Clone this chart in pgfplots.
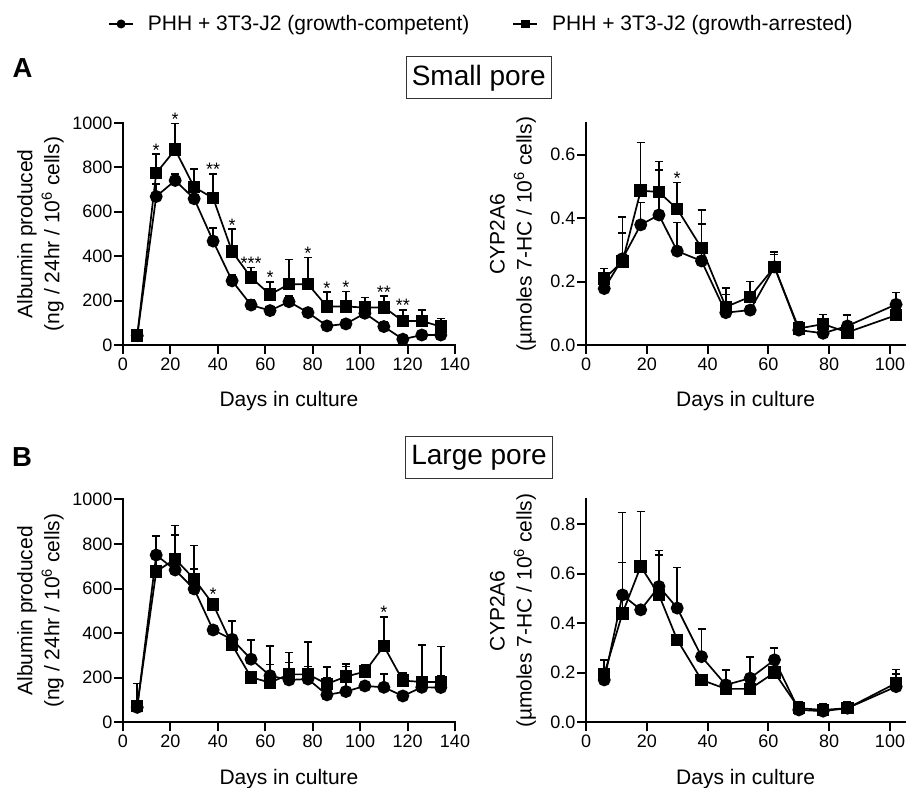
\documentclass[border=0pt]{standalone}
\usepackage{fontspec}
\setmainfont{Liberation Sans}
\usepackage{pgfplots}
\usepackage{pgfplotstable}
\pgfplotsset{compat=1.18}

% columns: day, mean, upper error
\pgfplotstableread{
x y e
6 42 0
14 669 56
22 741 30
30 659 0
38 468 58
46 289 27
54 180 23
62 155 0
70 195 25
78 146 0
86 86 0
94 95 0
102 143 0
110 83 22
118 26 0
126 45 0
134 45 0
}\spAlbComp
\pgfplotstableread{
x y e
6 42 5
14 774 86
22 880 117
30 711 81
38 662 109
46 421 101
54 304 45
62 227 57
70 274 112
78 274 121
86 173 65
94 174 67
102 168 46
110 170 50
118 108 50
126 108 50
134 83 37
}\spAlbArr
\pgfplotstableread{
x y e
6 0.178 0
12 0.272 0.081
18 0.379 0.071
24 0.410 0.142
30 0.296 0.091
38 0.265 0.117
46 0.102 0.057
54 0.110 0
62 0.246 0.040
70 0.047 0
78 0.037 0
86 0.060 0.034
102 0.128 0.037
}\spCypComp
\pgfplotstableread{
x y e
6 0.209 0.032
12 0.263 0.140
18 0.487 0.152
24 0.482 0.096
30 0.429 0.084
38 0.306 0.119
46 0.120 0.060
54 0.152 0.049
62 0.246 0.047
70 0.052 0.020
78 0.066 0.030
86 0.040 0
102 0.094 0
}\spCypArr
\pgfplotstableread{
x y e
6 67 108
14 750 83
22 683 157
30 598 90
38 414 0
46 372 82
54 283 86
62 209 51
70 190 79
78 194 56
86 123 77
94 138 112
102 163 0
110 157 59
118 118 0
126 157 43
134 156 52
}\lpAlbComp
\pgfplotstableread{
x y e
6 73 0
14 676 160
22 732 151
30 643 149
38 529 27
46 347 109
54 202 0
62 178 164
70 215 99
78 215 144
86 172 75
94 205 56
102 227 33
110 342 131
118 187 34
126 181 165
134 181 158
}\lpAlbArr
\pgfplotstableread{
x y e
6 0.171 0
12 0.514 0.333
18 0.454 0
24 0.548 0.146
30 0.461 0.164
38 0.265 0.111
46 0.151 0.060
54 0.178 0.085
62 0.252 0.047
70 0.050 0.033
78 0.045 0.030
86 0.057 0
102 0.144 0.050
}\lpCypComp
\pgfplotstableread{
x y e
6 0.195 0.057
12 0.440 0.205
18 0.629 0.222
24 0.514 0.162
30 0.333 0
38 0.171 0.019
46 0.135 0
54 0.135 0
62 0.201 0
70 0.057 0.020
78 0.050 0.025
86 0.057 0.026
102 0.158 0.055
}\lpCypArr

\tikzset{ast/.style={font=\fontsize{18}{18}\selectfont, anchor=base, inner sep=0pt, yshift=-2pt}}

\pgfplotsset{
  panel/.style={
    scale only axis, axis lines*=left, clip=false,
    axis line style={line width=2.2pt, line cap=rect},
    tick align=outside, major tick length=9pt,
    tick style={line width=2pt, black},
    ticklabel style={font=\fontsize{18}{18}\selectfont},
    yticklabel style={inner sep=1.5pt},
    /pgf/number format/assume math mode=true,
    /pgf/number format/1000 sep={},
    xlabel={Days in culture},
    every axis x label/.style={at={(axis description cs:0.5,0)}, anchor=base,
      yshift=-62pt, font=\fontsize{21}{27}\selectfont},
    every axis y label/.style={rotate=90, anchor=center, align=center,
      font=\fontsize{21}{27}\selectfont},
  },
  albumin/.style={panel, width=332pt, xmin=0, xmax=140, ymin=0, ymax=1000,
    xtick={0,20,...,140}, ytick={0,200,...,1000},
    ylabel={Albumin produced\\(ng / 24hr / 10\textsuperscript{6} cells)},
    ylabel style={at={(axis description cs:-0.2485,0.5)}}},
  cyp/.style={panel, width=319.2pt, xmin=0, xmax=105, ymin=0,
    xtick={0,20,...,100},
    yticklabel style={/pgf/number format/fixed, /pgf/number format/fixed zerofill,
      /pgf/number format/precision=1},
    ylabel={CYP2A6\\(µmoles 7-HC / 10\textsuperscript{6} cells)},
    ylabel style={at={(axis description cs:-0.2287,0.5)}}},
  comp/.style={black, line width=1.7pt, mark=*, mark size=5.6pt,
    mark options={solid, fill=black},
    legend image code/.code={\draw[line width=1.7pt] (0pt,0pt) -- (24pt,0pt);
      \fill (12pt,0pt) circle (3.6pt);},
    error bars/.cd, y dir=plus, y explicit,
    error bar style={line width=1.5pt},
    error mark options={rotate=90, line width=1.5pt, mark size=4pt}},
  arr/.style={black, line width=1.7pt, mark=square*, mark size=5.4pt,
    mark options={solid, fill=black},
    legend image code/.code={\draw[line width=1.7pt] (0pt,0pt) -- (24pt,0pt);
      \fill (8.6pt,-3.4pt) rectangle (15.4pt,3.4pt);},
    error bars/.cd, y dir=plus, y explicit,
    error bar style={line width=1.5pt},
    error mark options={rotate=90, line width=1.5pt, mark size=4pt}},
}

\begin{document}
\begin{tikzpicture}
\useasboundingbox (0,0) rectangle (909pt,787pt);

% A: small pore, albumin
\begin{axis}[albumin, at={(123pt,442pt)}, anchor=south west, height=222pt,
  legend columns=2,
  legend style={draw=none, fill=none, inner sep=0pt, at={(axis description cs:-0.045,1.446)},
    anchor=west, font=\fontsize{21}{21}\selectfont,
    /tikz/every odd column/.append style={column sep=12pt},
    /tikz/every even column/.append style={column sep=41pt}}]
\addplot[comp] table[x=x, y=y, y error=e] {\spAlbComp};
\addlegendentry{PHH + 3T3-J2 (growth-competent)}
\addplot[arr] table[x=x, y=y, y error=e] {\spAlbArr};
\addlegendentry{PHH + 3T3-J2 (growth-arrested)}
\node[ast] at (axis cs:14,860) {*};
\node[ast] at (axis cs:22,997) {*};
\node[ast] at (axis cs:38,771) {**};
\node[ast] at (axis cs:46,522) {*};
\node[ast] at (axis cs:54,349) {***};
\node[ast] at (axis cs:62,284) {*};
\node[ast] at (axis cs:78,395) {*};
\node[ast] at (axis cs:86,238) {*};
\node[ast] at (axis cs:94,241) {*};
\node[ast] at (axis cs:110,220) {**};
\node[ast] at (axis cs:118,158) {**};
\end{axis}

% A: small pore, CYP2A6
\begin{axis}[cyp, at={(586pt,442pt)}, anchor=south west, height=222pt,
  ymax=0.7, ytick={0,0.2,0.4,0.6}]
\addplot[comp] table[x=x, y=y, y error=e] {\spCypComp};
\addplot[arr] table[x=x, y=y, y error=e] {\spCypArr};
\node[ast] at (axis cs:30,0.513) {*};
\end{axis}

% B: large pore, albumin
\begin{axis}[albumin, at={(123pt,64.7pt)}, anchor=south west, height=223pt]
\addplot[comp] table[x=x, y=y, y error=e] {\lpAlbComp};
\addplot[arr] table[x=x, y=y, y error=e] {\lpAlbArr};
\node[ast] at (axis cs:38,556) {*};
\node[ast] at (axis cs:110,473) {*};
\end{axis}

% B: large pore, CYP2A6
\begin{axis}[cyp, at={(586pt,64.7pt)}, anchor=south west, height=223pt,
  ymax=0.9, ytick={0,0.2,0.4,0.6,0.8}]
\addplot[comp] table[x=x, y=y, y error=e] {\lpCypComp};
\addplot[arr] table[x=x, y=y, y error=e] {\lpCypArr};
\end{axis}

\node[font=\fontsize{27.5}{27.5}\selectfont\bfseries] at (22.5pt,719pt) {A};
\node[font=\fontsize{27.5}{27.5}\selectfont\bfseries] at (22pt,329.5pt) {B};
\node[draw=black!80, line width=1.2pt, font=\fontsize{28}{28}\selectfont,
  text height=20.4pt, text depth=5.9pt, inner xsep=5.5pt, inner ysep=7.9pt]
  at (478.7pt,709.2pt) {Small pore};
\node[draw=black!80, line width=1.2pt, font=\fontsize{28}{28}\selectfont,
  text height=20.4pt, text depth=5.9pt, inner xsep=5.5pt, inner ysep=7.9pt]
  at (479pt,329.5pt) {Large pore};
\end{tikzpicture}
\end{document}
